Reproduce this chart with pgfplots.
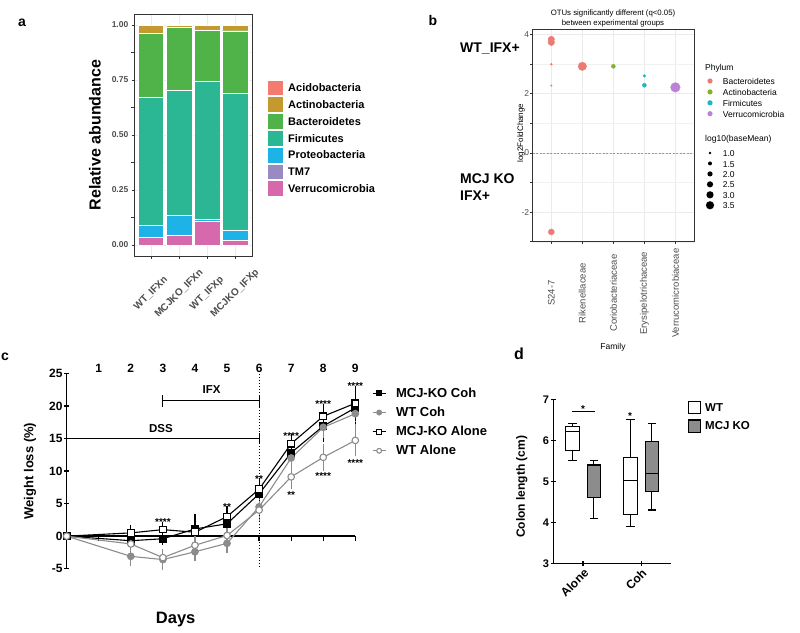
\documentclass[border=0pt]{standalone}
\usepackage{fontspec}
\setmainfont{Liberation Sans}
\setsansfont{Liberation Sans}
\usepackage{pgfplots}
\pgfplotsset{compat=1.18}
\usepgfplotslibrary{statistics}

\newcommand{\fs}[1]{\fontsize{#1}{#1}\selectfont}

% panel a (phylum stack)
\definecolor{cAcido}{HTML}{F37B70}
\definecolor{cActino}{HTML}{C49A2E}
\definecolor{cBact}{HTML}{4FB34A}
\definecolor{cFirm}{HTML}{2BB793}
\definecolor{cProt}{HTML}{1EB3E6}
\definecolor{cTM}{HTML}{9A8AC4}
\definecolor{cVerr}{HTML}{D569AC}
% panel b (phylum dots)
\definecolor{pBact}{HTML}{EC7B73}
\definecolor{pActi}{HTML}{82B12B}
\definecolor{pFirm}{HTML}{19B8C2}
\definecolor{pVerr}{HTML}{BB82D8}
% misc
\definecolor{cFrame}{HTML}{333333}
\definecolor{txtg}{HTML}{4D4D4D}
\definecolor{gridg}{HTML}{EBEBEB}
\definecolor{wtg}{HTML}{8C8C8C}

\tikzset{lab/.style={inner sep=0pt, text height=0.72em, text depth=0pt},
  star/.style={font=\bfseries\fs{10}, inner sep=0pt, anchor=base, yshift=-5.8pt}}

\pgfplotsset{
  every axis/.append style={font=\fs{9}, /pgf/number format/assume math mode=true},
  ggbox/.style={scale only axis, anchor=south west,
    axis line style={cFrame, line width=0.8pt},
    tick align=outside, tick pos=left, major tick length=2.5pt,
    tick style={cFrame, line width=0.6pt},
    grid=both, major grid style={gridg, line width=0.6pt},
    minor grid style={gridg!70, line width=0.35pt}},
  prism/.style={scale only axis, anchor=south west, clip=false,
    tick align=outside, major tick length=5pt,
    tick style={black, line width=1.3pt}},
  bubble/.style={only marks, scatter, mark=*,
    scatter/use mapped color={draw=#1, fill=#1},
    visualization depends on={\thisrow{s}\as\ms},
    scatter/@pre marker code/.append style={/tikz/mark size=\ms pt}},
}

\begin{document}
\begin{tikzpicture}
\useasboundingbox (0pt,0pt) rectangle (800pt,-632pt);

% ================= a =================
\begin{axis}[ggbox, at={(134pt,-256pt)}, width=118pt, height=242pt,
  xmin=0.4, xmax=4.6, ymin=-0.05, ymax=1.05,
  ybar stacked, bar width=25.6pt,
  xtick={1,2,3,4}, xticklabels={WT\_IFXn,MCJKO\_IFXn,WT\_IFXp,MCJKO\_IFXp},
  xticklabel style={rotate=45, anchor=center, font=\bfseries\fs{10}, text=txtg},
  xticklabel shift=35pt,
  ytick={0,0.25,0.5,0.75,1}, yticklabels={0.00,0.25,0.50,0.75,1.00},
  minor ytick={0.125,0.375,0.625,0.875},
  yticklabel style={font=\bfseries\fs{8.5}, text=txtg, inner sep=3pt},
]
\addplot[fill=cVerr, draw=white, line width=0.4pt] coordinates {(1,0.035) (2,0.045) (3,0.106) (4,0.020)};
\addplot[fill=cTM, draw=white, line width=0.4pt] coordinates {(1,0.001) (2,0.001) (3,0.001) (4,0.001)};
\addplot[fill=cProt, draw=white, line width=0.4pt] coordinates {(1,0.054) (2,0.088) (3,0.009) (4,0.045)};
\addplot[fill=cFirm, draw=white, line width=0.4pt] coordinates {(1,0.580) (2,0.571) (3,0.629) (4,0.623)};
\addplot[fill=cBact, draw=white, line width=0.4pt] coordinates {(1,0.292) (2,0.283) (3,0.232) (4,0.285)};
\addplot[fill=cActino, draw=white, line width=0.4pt] coordinates {(1,0.037) (2,0.011) (3,0.022) (4,0.025)};
\addplot[fill=cAcido, draw=white, line width=0.4pt] coordinates {(1,0.001) (2,0.001) (3,0.001) (4,0.001)};
\end{axis}
\node[font=\bfseries\fs{16}, rotate=90] at (95pt,-135pt) {Relative abundance};
\node[font=\bfseries\fs{14}, lab] at (22pt,-23pt) {a};
\begin{scope}[x=1pt, y=-1pt]
\foreach \c/\t [count=\i from 0] in {cAcido/Acidobacteria, cActino/Actinobacteria,
    cBact/Bacteroidetes, cFirm/Firmicutes, cProt/Proteobacteria, cTM/TM7, cVerr/Verrucomicrobia} {
  \fill[\c] (268, 80.6+16.8*\i) rectangle (283, 95.4+16.8*\i);
  \node[anchor=west, lab, font=\bfseries\fs{11}] at (288, 88+16.8*\i) {\t};
}
\end{scope}

% ================= b =================
\begin{axis}[ggbox, at={(532.7pt,-241.7pt)}, width=161.3pt, height=212.4pt,
  xmin=0.4, xmax=5.6, ymin=-3, ymax=4.17,
  xtick={1,2,3,4,5},
  xticklabels={S24-7,Rikenellaceae,Coriobacteriaceae,Erysipelotrichaceae,Verrucomicrobiaceae},
  xticklabel style={rotate=90, anchor=center, font=\fs{9.5}, text=txtg},
  xticklabel shift=49pt,
  ytick={-2,0,2,4}, yticklabels={-2,0,2,4}, minor ytick={-3,-1,1,3},
  yticklabel style={font=\fs{8.5}, text=txtg, inner sep=0.8pt},
]
\addplot[gray!80, line width=0.6pt, dash pattern=on 2pt off 1.5pt] coordinates {(0.4,0) (5.6,0)};
\addplot[bubble=pBact] table {
x y s
1 3.83 3.2
1 3.73 3.2
1 2.99 1.0
1 2.27 0.8
1 -2.67 3.0
2 2.92 4.2
};
\addplot[bubble=pActi] table {
x y s
3 2.92 2.0
};
\addplot[bubble=pFirm] table {
x y s
4 2.60 1.4
4 2.28 2.0
};
\addplot[bubble=pVerr] table {
x y s
5 2.21 4.8
};
\end{axis}
\begin{scope}[x=1pt, y=-1pt]
\node[font=\fs{7.8}] at (613,13.3) {OTUs significantly different (q<0.05)};
\node[font=\fs{7.8}] at (613,23.3) {between experimental groups};
\node[font=\fs{8}, rotate=90] at (521,133) {log2FoldChange};
\node[font=\fs{8.5}] at (613,347) {Family};
\node[font=\bfseries\fs{14}, lab] at (433,22) {b};
\node[font=\bfseries\fs{14}, lab, anchor=west] at (460,49) {WT\_IFX+};
\node[font=\bfseries\fs{14}, lab, anchor=west] at (460,180) {MCJ KO};
\node[font=\bfseries\fs{14}, lab, anchor=west] at (460,197) {IFX+};
\node[font=\fs{8.5}, lab, anchor=west] at (705,67) {Phylum};
\foreach \c/\t [count=\i from 0] in {pBact/Bacteroidetes, pActi/Actinobacteria,
    pFirm/Firmicutes, pVerr/Verrucomicrobia} {
  \fill[\c] (710, 81+10.9*\i) circle (2.6);
  \node[anchor=west, lab, font=\fs{8.5}] at (722.7, 81+10.9*\i) {\t};
}
\node[font=\fs{8.5}, lab, anchor=west] at (705,137.7) {log10(baseMean)};
\foreach \r/\t [count=\i from 0] in {1.3/1.0, 2.0/1.5, 2.6/2.0, 3.1/2.5, 3.6/3.0, 4.1/3.5} {
  \fill[black] (710, 153+10.45*\i) circle (\r);
  \node[anchor=west, lab, font=\fs{8.5}] at (722.7, 153+10.45*\i) {\t};
}
\end{scope}

% ================= c =================
\begin{axis}[prism, at={(66.7pt,-568.7pt)}, width=288.6pt, height=195.4pt,
  xmin=0, xmax=9, ymin=-5, ymax=25,
  axis x line=middle, axis y line=left,
  axis line style={-, black, line width=1.3pt},
  xtick={1,2,3,4,5,6,7,8,9}, xticklabels={},
  xtick align=outside,
  ytick={-5,0,5,10,15,20,25}, yticklabels={-5,0,5,10,15,20,25},
  yticklabel style={font=\bfseries\fs{12}, inner sep=1.5pt},
  legend style={at={(axis description cs:1.057,0.926)}, anchor=north west,
    draw=none, fill=none, font=\bfseries\fs{13}, inner sep=0pt,
    row sep=8.2pt, nodes={inner sep=0pt}},
  legend cell align=left,
  legend image code/.code={
    \draw[mark repeat=2, mark phase=2, mark size=2.4pt]
      plot coordinates {(0pt,0pt) (6.65pt,0pt) (13.3pt,0pt)};
    \path (23pt,0pt);},
]
\addplot[black, line width=1.1pt, mark=square*, mark size=3.3pt,
  mark options={solid, fill=black},
  error bars/.cd, y dir=both, y explicit,
  error bar style={line width=1.1pt}, error mark options={mark size=3pt, line width=1.1pt}]
coordinates {(0,0) +- (0,0) (2,-0.7) +- (0,0.4) (3,-0.4) +- (0,0.5) (4,1.1) +- (0,1.9)
  (5,1.9) +- (0,1.0) (6,6.5) +- (0,1.0) (7,12.8) +- (0,1.2) (8,16.9) +- (0,2.0) (9,19.7) +- (0,2.2)};
\addlegendentry{MCJ-KO Coh}
\addplot[wtg, line width=1.1pt, mark=*, mark size=3.3pt,
  mark options={solid, fill=wtg},
  error bars/.cd, y dir=both, y explicit,
  error bar style={line width=1.1pt}, error mark options={mark size=3pt, line width=1.1pt}]
coordinates {(0,0) +- (0,0) (2,-3.1) +- (0,1.0) (3,-3.6) +- (0,1.2) (4,-2.4) +- (0,0.9)
  (5,-1.1) +- (0,1.0) (6,4.5) +- (0,1.5) (7,12.0) +- (0,1.5) (8,16.7) +- (0,1.2) (9,18.8) +- (0,0.8)};
\addlegendentry{WT Coh}
\addplot[black, line width=1.1pt, mark=square*, mark size=3.3pt,
  mark options={solid, fill=white},
  error bars/.cd, y dir=both, y explicit,
  error bar style={line width=1.1pt}, error mark options={mark size=3pt, line width=1.1pt}]
coordinates {(0,0) +- (0,0) (2,0.5) +- (0,0.8) (3,1.0) +- (0,0.7) (4,0.6) +- (0,0.6)
  (5,3.0) +- (0,1.2) (6,7.2) +- (0,1.2) (7,14.2) +- (0,1.0) (8,18.4) +- (0,1.4) (9,20.4) +- (0,2.2)};
\addlegendentry{MCJ-KO Alone}
\addplot[wtg, line width=1.1pt, mark=*, mark size=3.3pt,
  mark options={solid, fill=white},
  error bars/.cd, y dir=both, y explicit,
  error bar style={line width=1.1pt}, error mark options={mark size=3pt, line width=1.1pt}]
coordinates {(0,0) +- (0,0) (2,-1.2) +- (0,1.0) (3,-3.3) +- (0,0.8) (4,-1.4) +- (0,0.9)
  (5,0.1) +- (0,1.0) (6,4.0) +- (0,1.3) (7,9.1) +- (0,1.45) (8,12.1) +- (0,1.6) (9,14.7) +- (0,2.0)};
\addlegendentry{WT Alone}
% day numbers on top
\pgfplotsinvokeforeach{1,...,9}{\node[font=\bfseries\fs{12}, lab] at (axis cs:#1,25.75) {#1};}
% treatment bars
\draw[black, line width=1.1pt] (axis cs:3,20.8) -- (axis cs:6,20.8);
\draw[black, line width=1.1pt] (axis cs:3,19.9) -- (axis cs:3,21.7);
\draw[black, line width=1.1pt] (axis cs:6,19.9) -- (axis cs:6,21.7);
\node[font=\bfseries\fs{11.5}, lab] at (axis cs:4.52,22.4) {IFX};
\draw[black, line width=1.1pt] (axis cs:0,15) -- (axis cs:6,15);
\draw[black, line width=1.1pt] (axis cs:6,14.2) -- (axis cs:6,15.8);
\node[font=\bfseries\fs{11.5}, lab] at (axis cs:2.94,16.5) {DSS};
\draw[black, line width=1pt, dotted] (axis cs:6,25.3) -- (axis cs:6,-5);
% significance
\node[star] at (axis cs:3,2.45) {****};
\node[star] at (axis cs:5,4.9) {**};
\node[star] at (axis cs:6,9.1) {**};
\node[star] at (axis cs:7,15.8) {****};
\node[star] at (axis cs:7,6.6) {**};
\node[star] at (axis cs:8,20.6) {****};
\node[star] at (axis cs:8,9.65) {****};
\node[star] at (axis cs:9,23.4) {****};
\node[star] at (axis cs:9,11.6) {****};
\end{axis}
\node[font=\bfseries\fs{13}, rotate=90] at (30pt,-471pt) {Weight loss (\%)};
\node[font=\bfseries\fs{16.5}, lab] at (175.7pt,-620pt) {Days};
\node[font=\bfseries\fs{14}, lab] at (5pt,-357pt) {c};

% ================= d =================
\begin{axis}[prism, at={(553.3pt,-563.7pt)}, width=117.4pt, height=164pt,
  xmin=0.486, xmax=2.509, ymin=3, ymax=7,
  axis x line=bottom, axis y line=left,
  axis line style={-, black, line width=1.3pt},
  boxplot/draw direction=y,
  xtick={1,2}, xticklabels={Alone,Coh},
  xticklabel style={rotate=45, anchor=north east, font=\bfseries\fs{12}, inner sep=1pt},
  ytick={3,4,5,6,7}, yticklabels={3,4,5,6,7},
  yticklabel style={font=\bfseries\fs{11}, inner sep=1.5pt},
]
\addplot[black, line width=1.1pt, fill=white, boxplot prepared={draw position=0.816,
  lower whisker=5.51, lower quartile=5.77, median=6.22, upper quartile=6.34, upper whisker=6.42,
  box extend=0.233, whisker extend=0.14}] coordinates {};
\addplot[black, line width=1.1pt, fill=wtg, boxplot prepared={draw position=1.184,
  lower whisker=4.11, lower quartile=4.61, median=5.40, upper quartile=5.43, upper whisker=5.51,
  box extend=0.233, whisker extend=0.14}] coordinates {};
\addplot[black, line width=1.1pt, fill=white, boxplot prepared={draw position=1.816,
  lower whisker=3.90, lower quartile=4.21, median=5.02, upper quartile=5.59, upper whisker=6.52,
  box extend=0.233, whisker extend=0.14}] coordinates {};
\addplot[black, line width=1.1pt, fill=wtg, boxplot prepared={draw position=2.184,
  lower whisker=4.31, lower quartile=4.77, median=5.21, upper quartile=5.99, upper whisker=6.42,
  box extend=0.233, whisker extend=0.14}] coordinates {};
\draw[black, line width=1.1pt] (axis cs:0.803,6.71) -- (axis cs:1.205,6.71);
\node[star] at (axis cs:1.0,6.83) {*};
\node[star] at (axis cs:1.81,6.65) {*};
\end{axis}
\node[font=\bfseries\fs{12}, rotate=90] at (521.7pt,-486.7pt) {Colon length (cm)};
\node[font=\bfseries\fs{16}, lab] at (519pt,-356pt) {d};
\begin{scope}[x=1pt, y=-1pt]
\draw[black, line width=1.1pt, fill=white] (688.3,401.7) rectangle (700.7,413.3);
\draw[black, line width=1.1pt, fill=wtg] (688.3,420) rectangle (700.7,432.3);
\node[anchor=west, lab, font=\bfseries\fs{11.5}] at (705,407.5) {WT};
\node[anchor=west, lab, font=\bfseries\fs{11.5}] at (705,426.2) {MCJ KO};
\end{scope}
\end{tikzpicture}
\end{document}
